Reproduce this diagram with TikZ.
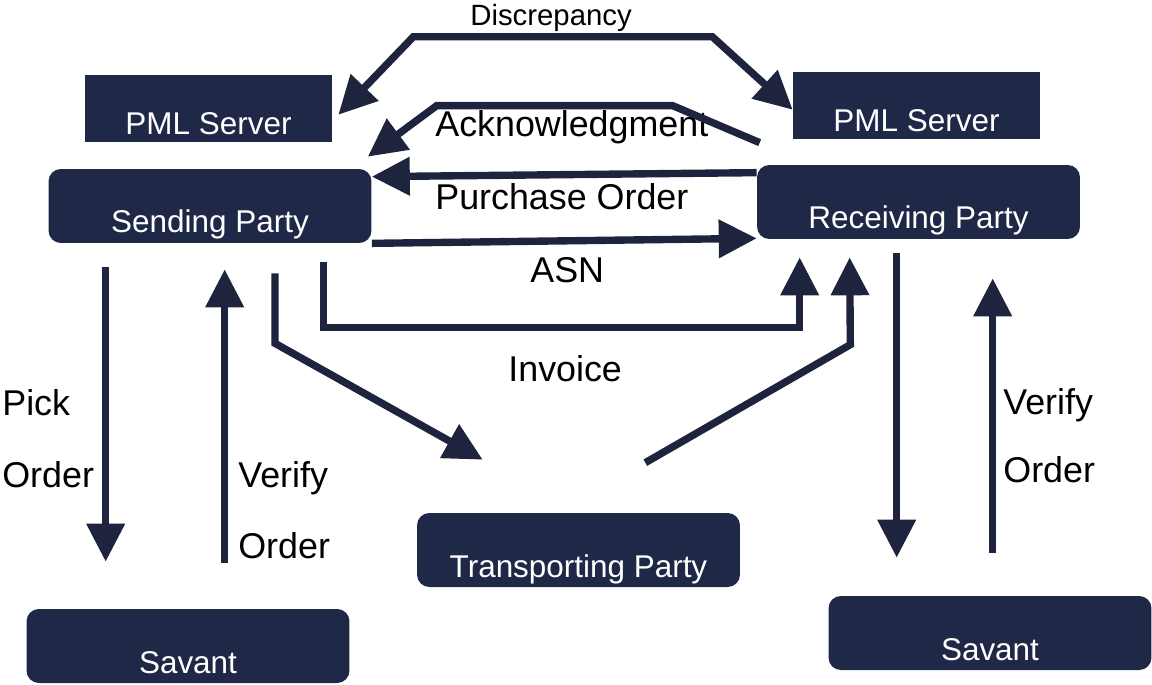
\documentclass[tikz,border=0pt]{standalone}
\usepackage{fontspec}
\setmainfont{Liberation Sans}
\usepackage{tikz}
\usetikzlibrary{arrows.meta, positioning, calc}
\definecolor{boxnavy}{RGB}{31, 41, 71}
\definecolor{arrownavy}{RGB}{30, 36, 62}

\begin{document}
\begin{tikzpicture}[
    x=0.02cm, y=-0.02cm,
    party/.style={rectangle, rounded corners=7pt, fill=boxnavy, text=white, inner sep=0pt, anchor=base, minimum width=6.46cm, text height=1.28cm, text depth=0.2cm, font=\fontsize{17.9}{21}\selectfont},
    server/.style={party, sharp corners, minimum width=4.94cm, text height=1.2cm, text depth=0.15cm},
    lbl/.style={anchor=base west, inner sep=0pt, font=\fontsize{20.4}{24}\selectfont},
    arrow/.style={draw=arrownavy, line width=4.2pt, -{Triangle[length=0.76cm, width=0.74cm]}}
]
    \useasboundingbox (0,0) rectangle (1152,685);

    \node[server] (pmlL) at (208.5,135) {PML Server};
    \node[server] (pmlR) at (916.5,132) {PML Server};
    \node[party] (send) at (210,233) {Sending Party};
    \node[party] (recv) at (918.5,229) {Receiving Party};
    \node[party] (trans) at (578.5,577) {Transporting Party};
    \node[party] (savL) at (188,673) {Savant};
    \node[party] (savR) at (990,660) {Savant};

    \node[lbl, font=\fontsize{16.7}{20}\selectfont] (disc) at (470,26) {Discrepancy};
    \node[lbl] (ack) at (435,137) {Acknowledgment};
    \node[lbl] (po) at (435,210) {Purchase Order};
    \node[lbl] (asn) at (530,283) {ASN};
    \node[lbl] (inv) at (508,382) {Invoice};
    \node[lbl] (pick) at (2,416) {Pick};
    \node[lbl] (pickord) at (2,487) {Order};
    \node[lbl] (verL) at (238,487) {Verify};
    \node[lbl] (verLord) at (238,558) {Order};
    \node[lbl] (verR) at (1003,415) {Verify};
    \node[lbl] (verRord) at (1003,482) {Order};

    \draw[arrow, {Triangle[length=0.76cm, width=0.74cm]}-{Triangle[length=0.76cm, width=0.74cm]}] ($(pmlL.east)+(6,6)$) -- ++(75,-78) -- ++(299,0) -- ($(pmlR.west)+(0,4)$);
    \draw[arrow] ($(recv.north west)+(3,-22)$) -- ++(-87,-37) -- ++(-236,0) -- ($(send.north east)+(-4,-12)$);
    \draw[arrow] ($(recv.north west)+(0,8)$) -- ($(send.north east)+(0,8)$);
    \draw[arrow] (send.south east) -- ($(recv.south west)+(0,-1)$);
    \draw[arrow] ($(send.south east)+(-48.5,19)$) -- ++(0,65) -| ($(recv.south west)+(43,18)$);
    \draw[arrow] ($(send.south)+(65,30)$) -- ++(0,70) -- ($(trans.north west)+(66,-53)$);
    \draw[arrow] ($(trans.north east)+(-95,-50)$) -- ++(205,-118) -- ($(recv.south west)+(93,18)$);
    \draw[arrow] ($(send.south west)+(57.5,24)$) -- ($(savL.north west)+(79.5,-47)$);
    \draw[arrow] ($(savL.north west)+(198.5,-46)$) -- ($(send.south west)+(176.5,26)$);
    \draw[arrow] ($(recv.south west)+(140,14)$) -- ($(savR.north west)+(68.5,-38)$);
    \draw[arrow] ($(savR.north west)+(164.5,-43)$) -- ($(recv.south west)+(236,39)$);
\end{tikzpicture}
\end{document}
